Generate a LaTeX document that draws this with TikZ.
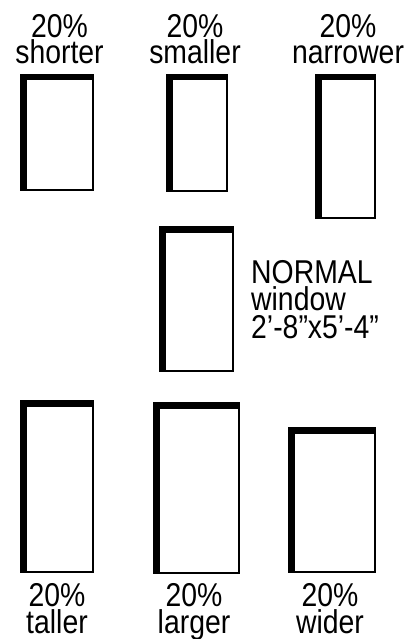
\documentclass[tikz,border=0pt]{standalone}
\usepackage{fontspec}
\newfontfamily\narfont[FakeStretch=0.86]{Liberation Sans}
\begin{document}
\begin{tikzpicture}[x=1pt,y=-1pt,
  lbl/.style={inner sep=0pt,anchor=base,align=center,font=\narfont\fontsize{33}{26.5}\selectfont},
  lblw/.style={lbl,anchor=base west,align=left,font=\narfont\fontsize{33}{27.5}\selectfont}]
\useasboundingbox (0,0) rectangle (412,639);
% window frames: thick left/top, thin right/bottom
\newcommand{\wframe}[4]{%
  \fill[black] (#1,#2) rectangle (#3,#4);
  \fill[white] ({#1+6.5},{#2+6.5}) rectangle ({#3-2.5},{#4-2.5});}
\wframe{20}{74}{94}{191}
\wframe{166}{74}{228}{192}
\wframe{315}{74}{376}{219}
\wframe{159}{226}{234}{372}
\wframe{20}{400}{94}{573}
\wframe{153}{402}{240}{574}
\wframe{288}{427}{376}{573}
% top labels (anchor = baseline of last line)
\node[lbl] (t1) at (59.5,64) {20\%\\shorter};
\node[lbl] (t2) at (195,64) {20\%\\smaller};
\node[lbl] (t3) at (348,64) {20\%\\narrower};
% middle label
\node[lblw] (m1) at (251,338) {NORMAL\\window\\2’-8”x5’-4”};
% bottom labels
\node[lbl] (b1) at (57,633) {20\%\\taller};
\node[lbl] (b2) at (194,633) {20\%\\larger};
\node[lbl] (b3) at (330,633) {20\%\\wider};
\end{tikzpicture}
\end{document}
